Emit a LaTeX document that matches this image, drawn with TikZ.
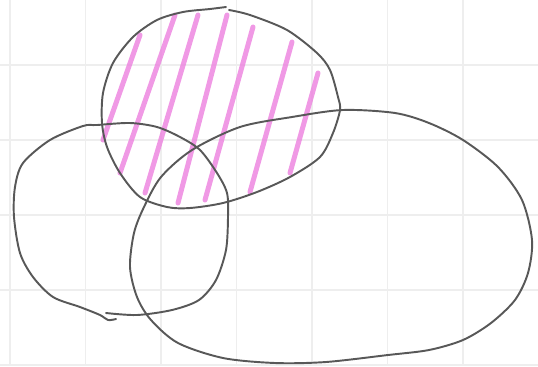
\documentclass[tikz,border=0pt]{standalone}
\definecolor{pencil}{RGB}{88,88,88}
\definecolor{crayon}{RGB}{236,128,222}
\definecolor{paper}{RGB}{238,238,238}
\tikzset{
    outline/.style={pencil, line width=1.1pt, line join=round, line cap=round},
    hatch/.style={crayon, line width=0.1cm, line cap=round, opacity=0.8},
}
\begin{document}
\begin{tikzpicture}[x=0.02cm, y=-0.02cm]
    \useasboundingbox (0,0) rectangle (538,366);
    % squared paper
    \foreach \gx in {10,85.5,...,540}
        \draw[paper, line width=0.6pt] (\gx,0)--(\gx,366);
    \foreach \gy in {-10,65,...,370}
        \draw[paper, line width=0.6pt] (0,\gy)--(538,\gy);
    % hatching of the top set
    \foreach \xa/\ya/\xb/\yb in {103/140/140/35, 120/173/175/15, 145/193/198/15,
                                 178/203/227/15, 205/200/253/27, 250/192/292/42,
                                 290/173/318/73}
        \draw[hatch] (\xa,\ya)--(\xb,\yb);
    % top set
    \draw[outline] plot[smooth] coordinates {(229,10) (250,15) (287,30) (317,53)
        (330,70) (338,97) (340,110) (333,133) (320,157) (290,177) (257,192)
        (223,203) (190,208) (167,207) (140,197) (120,173) (107,147) (102,123)
        (103,93) (113,63) (133,37) (157,20) (183,12) (210,9) (226,7)};
    % left set
    \draw[outline] plot[smooth] coordinates {(106,313) (137,315) (172,310)
        (199,300) (216,280) (226,250) (228,217) (227,193) (217,173) (200,150)
        (180,137) (157,127) (130,123) (97,125) (83,126) (50,140) (23,163)
        (15,187) (14,217) (20,253) (33,277) (53,297) (80,307) (100,315)
        (108,320) (116,319)};
    % right set
    \draw[outline] plot[smooth cycle] coordinates {(130,267) (134,233) (144,207)
        (161,177) (192,150) (240,127) (292,117) (343,110) (395,113) (429,123)
        (463,140) (498,167) (522,200) (532,240) (528,273) (515,300) (491,323)
        (463,340) (429,350) (388,355) (326,362) (275,363) (223,358) (178,343)
        (151,320) (137,297)};
\end{tikzpicture}
\end{document}
